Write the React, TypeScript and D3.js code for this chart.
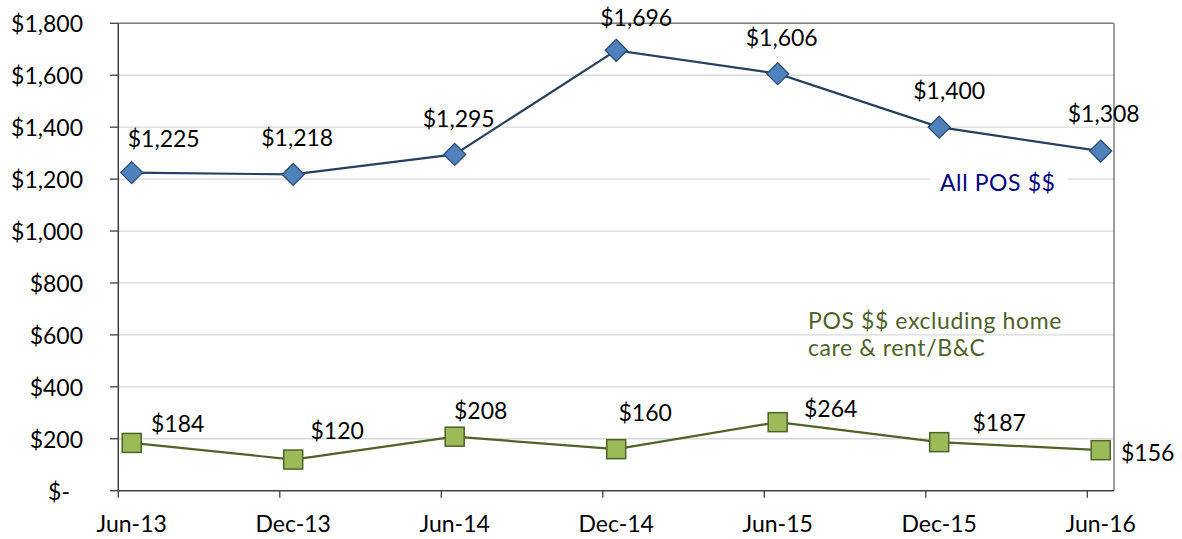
import React from "react";
import * as d3 from "d3";

const categories = ["Jun-13", "Dec-13", "Jun-14", "Dec-14", "Jun-15", "Dec-15", "Jun-16"];
const allPos = [1225, 1218, 1295, 1696, 1606, 1400, 1308];
const posExcl = [184, 120, 208, 160, 264, 187, 156];
const yTicks = [0, 200, 400, 600, 800, 1000, 1200, 1400, 1600, 1800];
const allPosLabelDx = [32, 4, 4, 20, 4, 10, 3];
const allPosLabelDy = [-35, -37, -36, -33, -37, -37, -38];
const exclLabelDx = [46, 44, 26, 29, 53, 60, 47];
const exclLabelDy = [-20, -30, -27, -37, -14, -20, 2];

const W = 1182;
const H = 539;
const left = 118.3;
const right = 1114;
const top = 23.3;
const bottom = 490.7;
const FONT = "Lato, 'Open Sans', sans-serif";

const fmt = (v: number) => (v === 0 ? "$-" : "$" + d3.format(",")(v));

export default function App() {
  const x = d3.scalePoint<string>().domain(categories).range([131.7, 1100.7]);
  const y = d3.scaleLinear().domain([0, 1800]).range([bottom, top]);
  const tickOffset = -13.4;

  const lineGen = d3
    .line<number>()
    .x((_, i) => x(categories[i]) as number)
    .y((d) => y(d));

  const dSize = 11;
  const sSize = 9.5;

  return (
    <svg
      width={W}
      height={H}
      style={{ position: "absolute", left: 0, top: 0, background: "#fff" }}
      fontFamily={FONT}
    >
      {yTicks.map((t) =>
        t === 0 ? null : (
          <line key={"g" + t} x1={left} x2={right} y1={y(t)} y2={y(t)} stroke="#D9D9D9" strokeWidth={1.3} />
        )
      )}
      <line x1={left} x2={right} y1={top} y2={top} stroke="#7F7F7F" strokeWidth={1.5} />
      <line x1={right} x2={right} y1={top} y2={bottom} stroke="#7F7F7F" strokeWidth={1.5} />
      <line x1={left} x2={left} y1={top} y2={bottom} stroke="#404040" strokeWidth={1.5} />
      <line x1={left} x2={right} y1={bottom} y2={bottom} stroke="#404040" strokeWidth={1.5} />
      {yTicks.map((t) => (
        <g key={"yt" + t}>
          <line x1={110} x2={left} y1={y(t)} y2={y(t)} stroke="#404040" strokeWidth={1.3} />
          <text
            x={t === 0 ? 70 : 83}
            y={y(t)}
            textAnchor="end"
            dominantBaseline="central"
            fontSize={23}
            fill="#000"
          >
            {fmt(t)}
          </text>
        </g>
      ))}
      {categories.map((c) => (
        <g key={"xt" + c}>
          <line
            x1={(x(c) as number) + tickOffset}
            x2={(x(c) as number) + tickOffset}
            y1={bottom}
            y2={bottom + 7}
            stroke="#404040"
            strokeWidth={1.3}
          />
          <text x={x(c) as number} y={523} textAnchor="middle" dominantBaseline="central" fontSize={23} fill="#000">
            {c}
          </text>
        </g>
      ))}

      <path d={lineGen(allPos) || ""} fill="none" stroke="#254061" strokeWidth={2.2} />
      {allPos.map((v, i) => {
        const cx = x(categories[i]) as number;
        const cy = y(v);
        return (
          <path
            key={"d" + i}
            d={`M${cx},${cy - dSize}L${cx + dSize},${cy}L${cx},${cy + dSize}L${cx - dSize},${cy}Z`}
            fill="#4F81BD"
            stroke="#2C4D75"
            strokeWidth={1.3}
          />
        );
      })}
      {allPos.map((v, i) => (
        <text
          key={"la" + i}
          x={(x(categories[i]) as number) + allPosLabelDx[i]}
          y={y(v) + allPosLabelDy[i]}
          textAnchor="middle"
          dominantBaseline="central"
          fontSize={23}
          fill="#000"
        >
          {fmt(v)}
        </text>
      ))}

      <path d={lineGen(posExcl) || ""} fill="none" stroke="#4F6228" strokeWidth={2.2} />
      {posExcl.map((v, i) => {
        const cx = x(categories[i]) as number;
        const cy = y(v);
        return (
          <rect
            key={"s" + i}
            x={cx - sSize}
            y={cy - sSize}
            width={sSize * 2}
            height={sSize * 2}
            fill="#9BBB59"
            stroke="#4F6228"
            strokeWidth={1.5}
          />
        );
      })}
      {posExcl.map((v, i) => (
        <text
          key={"lg" + i}
          x={(x(categories[i]) as number) + exclLabelDx[i]}
          y={y(v) + exclLabelDy[i]}
          textAnchor="middle"
          dominantBaseline="central"
          fontSize={23}
          fill="#000"
        >
          {fmt(v)}
        </text>
      ))}

      <rect x={930} y={166} width={138} height={32} fill="#fff" />
      <text x={940} y={182} dominantBaseline="central" fontSize={23} letterSpacing={0.6} fill="#000080">
        All POS $$
      </text>
      <text x={808} y={320} dominantBaseline="central" fontSize={23} letterSpacing={0.6} fill="#4F6228">
        POS $$ excluding home
      </text>
      <text x={808} y={347} dominantBaseline="central" fontSize={23} letterSpacing={0.6} fill="#4F6228">
        care &amp; rent/B&amp;C
      </text>
    </svg>
  );
}
